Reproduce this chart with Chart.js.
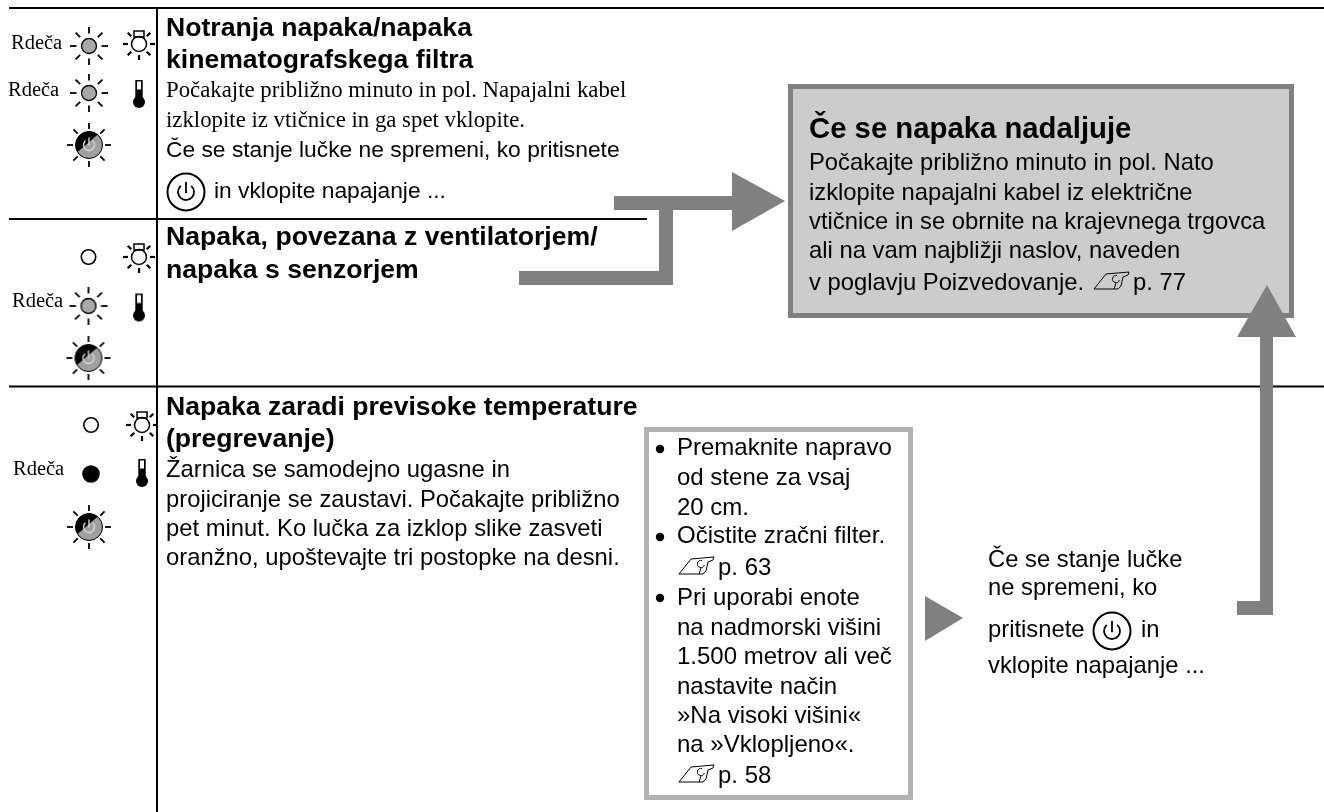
<!DOCTYPE html>
<html>
<head>
<meta charset="utf-8">
<style>
  html, body { margin: 0; padding: 0; background: #fff; }
  canvas { display: block; }
</style>
<script src="https://cdn.jsdelivr.net/npm/chart.js@4"></script>
</head>
<body>
<canvas id="page" width="1324" height="812"></canvas>
<script>
// texts
var lampLabel = "Rdeča";
var title1 = ["Notranja napaka/napaka", "kinematografskega filtra"];
var body1Serif = ["Počakajte približno minuto in pol. Napajalni kabel", "izklopite iz vtičnice in ga spet vklopite."];
var body1Sans = ["Če se stanje lučke ne spremeni, ko pritisnete", "in vklopite napajanje ..."];
var title2 = ["Napaka, povezana z ventilatorjem/", "napaka s senzorjem"];
var title3 = ["Napaka zaradi previsoke temperature", "(pregrevanje)"];
var body3 = ["Žarnica se samodejno ugasne in", "projiciranje se zaustavi. Počakajte približno", "pet minut. Ko lučka za izklop slike zasveti", "oranžno, upoštevajte tri postopke na desni."];
var boxTitle = "Če se napaka nadaljuje";
var boxBody = ["Počakajte približno minuto in pol. Nato", "izklopite napajalni kabel iz električne", "vtičnice in se obrnite na krajevnega trgovca", "ali na vam najbližji naslov, naveden", "v poglavju Poizvedovanje."];
var boxRef = "p. 77";
var steps = ["Premaknite napravo", "od stene za vsaj", "20 cm.", "Očistite zračni filter.", "p. 63", "Pri uporabi enote", "na nadmorski višini", "1.500 metrov ali več", "nastavite način", "»Na visoki višini«", "na »Vklopljeno«.", "p. 58"];
var after3 = ["Če se stanje lučke", "ne spremeni, ko", "pritisnete", "in", "vklopite napajanje ..."];

// rules
var ruleX = [[9, 1324], [9, 647], [9, 1324], [157, 157]];
var ruleY = [[8, 8], [219, 219], [386.5, 386.5], [8, 812]];

// arrows and boxes, outline points in page units
var rightArrowX = [614, 732, 732, 785, 732, 732, 673, 673, 519, 519, 659, 659, 614];
var rightArrowY = [196, 196, 172, 201, 231, 210, 210, 285, 285, 271, 271, 210, 210];
var upArrowX = [1267, 1296, 1273, 1273, 1237, 1237, 1260, 1260, 1237];
var upArrowY = [285, 337, 337, 615, 615, 601, 601, 337, 337];
var smallArrowX = [925, 963, 925];
var smallArrowY = [596, 618, 641];
var grayBoxX = [788, 1294];
var grayBoxY = [84, 318];
var stepBoxX = [644, 913];
var stepBoxY = [427, 800];
var borderGray = 5;

// indicator lamps
var lampX = [89, 139, 89, 139, 89, 88.5, 139, 88.5, 139, 88.5, 91, 142, 91, 142, 89];
var lampY = [46, 44, 93, 94, 145, 257, 257, 306, 307.5, 358, 425, 425, 474, 473, 527];
var lampKind = ["lit", "bulb", "lit", "therm", "power", "off", "bulb", "lit", "therm", "power", "off", "bulb", "on", "therm", "power"];
var bulletX = [660, 660, 660];
var bulletY = [449, 537, 598];
var powerKeyX = [186, 1112];
var powerKeyY = [192, 631];
var pointerX = [1112, 697, 697];
var pointerY = [281, 566, 774];

function newIcon(w, h) {
  var c = document.createElement("canvas");
  c.width = w;
  c.height = h;
  var g = c.getContext("2d");
  g.translate(w / 2, h / 2);
  g.strokeStyle = "#000";
  g.lineCap = "butt";
  return { c: c, g: g };
}

function rays(g, r1, r2, width, skipTop) {
  for (var i = 0; i < 8; i++) {
    if (skipTop && i == 6) continue;
    var a = i * Math.PI / 4;
    g.lineWidth = width;
    g.beginPath();
    g.moveTo(Math.cos(a) * r1, Math.sin(a) * r1);
    g.lineTo(Math.cos(a) * r2, Math.sin(a) * r2);
    g.stroke();
  }
}

function powerGlyph(g, r, width, color) {
  g.strokeStyle = color;
  g.lineWidth = width;
  g.beginPath();
  g.arc(0, 0, r, -Math.PI / 2 + 0.7, -Math.PI / 2 - 0.7 + Math.PI * 2);
  g.stroke();
  g.beginPath();
  g.moveTo(0, -r - 2);
  g.lineTo(0, r * 0.15);
  g.stroke();
}

function makeLit() {
  var i = newIcon(44, 44), g = i.g;
  rays(g, 12.5, 19, 1.8);
  g.beginPath();
  g.arc(0, 0, 7.5, 0, Math.PI * 2);
  g.fillStyle = "#a8a8a8";
  g.fill();
  g.lineWidth = 1.3;
  g.stroke();
  return i.c;
}

function makeBulb() {
  var i = newIcon(44, 44), g = i.g;
  rays(g, 11, 16, 2.2, true);
  g.lineWidth = 1.5;
  g.beginPath();
  g.arc(0, 0, 7.5, 0, Math.PI * 2);
  g.stroke();
  g.strokeRect(-5, -13, 10, 6);
  return i.c;
}

function makeTherm() {
  var i = newIcon(20, 40), g = i.g;
  g.fillStyle = "#000";
  g.beginPath();
  g.arc(0, 8, 6, 0, Math.PI * 2);
  g.fill();
  g.fillRect(-3.7, -14, 7.4, 22);
  g.fillStyle = "#fff";
  g.fillRect(-2, -12.5, 4, 8);
  return i.c;
}

function makePower() {
  var i = newIcon(48, 48), g = i.g;
  rays(g, 16, 22, 1.8);
  g.save();
  g.beginPath();
  g.arc(0, 0, 13.5, 0, Math.PI * 2);
  g.fillStyle = "#a0a0a0";
  g.fill();
  g.clip();
  g.fillStyle = "#000";
  g.beginPath();
  g.moveTo(-16, 11);
  g.lineTo(14, -15);
  g.lineTo(-16, -16);
  g.closePath();
  g.fill();
  g.restore();
  g.lineWidth = 1;
  g.beginPath();
  g.arc(0, 0, 13.5, 0, Math.PI * 2);
  g.stroke();
  powerGlyph(g, 5.5, 1.4, "#d8d8d8");
  return i.c;
}

function makePowerKey() {
  var i = newIcon(42, 42), g = i.g;
  g.lineWidth = 2;
  g.beginPath();
  g.arc(0, 0, 18.5, 0, Math.PI * 2);
  g.stroke();
  powerGlyph(g, 8, 1.8, "#000");
  return i.c;
}

function makePointer() {
  var i = newIcon(40, 22), g = i.g;
  g.translate(-20, -11);
  g.lineWidth = 1;
  g.beginPath();
  g.moveTo(2, 19);
  g.lineTo(14, 4);
  g.lineTo(37, 2);
  g.lineTo(36, 5);
  g.lineTo(31, 7);
  g.lineTo(29, 16);
  g.lineTo(26, 19);
  g.closePath();
  g.stroke();
  g.beginPath();
  g.arc(24, 9, 3.5, 0.3, 5);
  g.moveTo(24, 13);
  g.lineTo(22, 19);
  g.stroke();
  return i.c;
}

var icons = { lit: makeLit(), bulb: makeBulb(), therm: makeTherm(), power: makePower(), powerKey: makePowerKey(), pointer: makePointer() };

function points(xs, ys) {
  return xs.map(function (x, i) { return { x: x, y: ys[i] }; });
}

function rectPoints(xs, ys, inset) {
  return points(
    [xs[0] + inset, xs[1] - inset, xs[1] - inset, xs[0] + inset, xs[0] + inset],
    [ys[0] + inset, ys[0] + inset, ys[1] - inset, ys[1] - inset, ys[0] + inset]
  );
}

var layers = [];

function addShape(data, color) {
  layers.push({ type: "line", data: data, showLine: true, fill: "shape", backgroundColor: color, borderWidth: 0, pointRadius: 0, tension: 0 });
}

ruleX.forEach(function (xs, i) {
  layers.push({ type: "line", data: points(xs, ruleY[i]), showLine: true, fill: false, borderColor: "#000", borderWidth: 2, pointRadius: 0 });
});
addShape(points(smallArrowX, smallArrowY), "#808080");
addShape(rectPoints(stepBoxX, stepBoxY, 0), "#b2b2b2");
addShape(rectPoints(stepBoxX, stepBoxY, borderGray), "#fff");
addShape(rectPoints(grayBoxX, grayBoxY, 0), "#808080");
addShape(rectPoints(grayBoxX, grayBoxY, borderGray), "#cccccc");
addShape(points(rightArrowX, rightArrowY), "#808080");
addShape(points(upArrowX, upArrowY), "#808080");

// lamps that are plain circles use the built in style, the rest use icons
layers.push({
  type: "scatter",
  data: points(lampX, lampY),
  pointRadius: function (c) { var k = lampKind[c.dataIndex]; return k == "off" ? 7.2 : k == "on" ? 8 : 20; },
  pointStyle: lampKind.map(function (k) { return icons[k] || "circle"; }),
  pointBackgroundColor: lampKind.map(function (k) { return k == "on" ? "#000" : "#fff"; }),
  pointBorderColor: "#000",
  pointBorderWidth: 1.6
});
layers.push({ type: "scatter", data: points(bulletX, bulletY), pointRadius: 4.2, pointStyle: "circle", pointBackgroundColor: "#000", pointBorderWidth: 0 });
layers.push({ type: "scatter", data: points(powerKeyX, powerKeyY), pointRadius: 20, pointStyle: icons.powerKey });
layers.push({ type: "scatter", data: points(pointerX, pointerY), pointRadius: 20, pointStyle: icons.pointer });

// first dataset in the list is painted last by Chart.js, so order by hand
layers.forEach(function (d, i) { d.order = -i; });

var SANS = '"Liberation Sans", Arial, sans-serif';
var SERIF = '"Liberation Serif", "Times New Roman", serif';

// every block: strings, x, baselines, font
var textBlocks = [
  { lines: [lampLabel, lampLabel, lampLabel, lampLabel], x: [11, 8, 12, 13], y: [49, 96, 307, 475], font: "20.5px " + SERIF },
  { lines: title1, x: [166], y: [36, 68], font: "bold 26.6px " + SANS },
  { lines: body1Serif, x: [166], y: [97, 127], font: "22.8px " + SERIF },
  { lines: [body1Sans[0]], x: [166], y: [157], font: "22.8px " + SANS },
  { lines: [body1Sans[1]], x: [214], y: [198], font: "22.8px " + SANS },
  { lines: title2, x: [166], y: [245, 278], font: "bold 26.6px " + SANS },
  { lines: title3, x: [166], y: [415, 447], font: "bold 26.6px " + SANS },
  { lines: body3, x: [166], y: [477, 507, 536, 565], font: "23.8px " + SANS },
  { lines: [boxTitle], x: [809], y: [138], font: "bold 29.3px " + SANS },
  { lines: boxBody, x: [809], y: [170, 200, 229, 258, 290], font: "23.8px " + SANS },
  { lines: [boxRef], x: [1133], y: [290], font: "23.8px " + SANS },
  { lines: steps, x: [677, 677, 677, 677, 718, 677, 677, 677, 677, 677, 677, 718], y: [455, 485, 515, 543, 575, 605, 635, 664, 694, 723, 752, 783], font: "24px " + SANS },
  { lines: after3, x: [988, 988, 988, 1141, 988], y: [567, 595, 637, 637, 673], font: "23.8px " + SANS }
];

var pageText = {
  id: "pageText",
  afterDatasetsDraw: function (chart) {
    var ctx = chart.ctx, sx = chart.scales.x, sy = chart.scales.y;
    ctx.save();
    ctx.fillStyle = "#000";
    ctx.textBaseline = "alphabetic";
    textBlocks.forEach(function (b) {
      ctx.font = b.font;
      b.lines.forEach(function (t, i) {
        var x = b.x.length > 1 ? b.x[i] : b.x[0];
        ctx.fillText(t, sx.getPixelForValue(x), sy.getPixelForValue(b.y[i]));
      });
    });
    ctx.restore();
  }
};

var chart = new Chart(document.getElementById("page"), {
  type: "scatter",
  data: { datasets: layers },
  plugins: [pageText],
  options: {
    responsive: false,
    animation: false,
    layout: { padding: 0, autoPadding: false },
    plugins: { legend: { display: false }, tooltip: { enabled: false }, title: { display: false } },
    scales: {
      x: { type: "linear", min: 0, max: 1324, display: false },
      y: { type: "linear", min: 0, max: 812, reverse: true, display: false }
    }
  }
});
</script>
</body>
</html>
